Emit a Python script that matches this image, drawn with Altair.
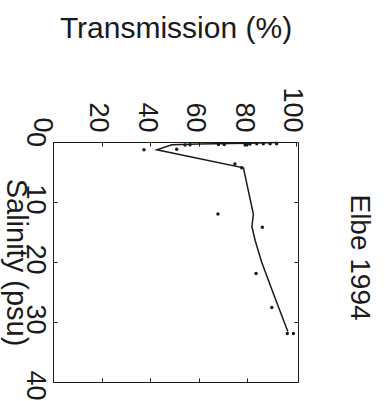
import altair as alt
import pandas as pd

# Axis tick values
trans_ticks = [0, 20, 40, 60, 80, 100]
trans_inner_ticks = [20, 40, 60, 80]
sal_ticks = [0, 10, 20, 30, 40]
sal_inner_ticks = [10, 20, 30]

# Measured points (Transmission %, Salinity psu)
pt_trans = [37.5, 51.0, 54.4, 56.5, 68.2, 70.6, 79.2, 80.0, 81.2, 84.0, 86.7, 89.5, 92.2,
            75.0, 77.8, 68.0, 86.3, 83.7, 90.2, 96.6, 99.1]
pt_sal = [1.3, 1.2, 0.5, 0.45, 0.4, 0.4, 0.5, 0.4, 0.35, 0.3, 0.3, 0.3, 0.3,
          3.65, 4.3, 12.0, 14.2, 21.9, 27.6, 31.9, 31.9]

# Fitted curve vertices, in drawing order
line_trans = [92.8, 80.0, 60.0, 49.0, 42.8, 78.5, 82.6, 82.0, 83.4, 86.0, 90.6, 96.8]
line_sal = [0.1, 0.2, 0.35, 0.45, 1.3, 4.3, 12.0, 14.1, 16.5, 20.0, 25.0, 31.6]

chart_title = "Elbe 1994"

FONT = "Liberation Sans"
INK = "#1a1a1a"

xs = alt.Scale(domain=[0, 101], nice=False, zero=False)
ys = alt.Scale(domain=[0, 40], nice=False, reverse=True)

pts = pd.DataFrame({"Transmission": pt_trans, "Salinity": pt_sal})
curve = pd.DataFrame({"Transmission": line_trans, "Salinity": line_sal,
                      "order": list(range(len(line_trans)))})

points = alt.Chart(pts).mark_circle(size=12, color=INK, opacity=1).encode(
    x=alt.X("Transmission:Q", scale=xs, axis=alt.Axis(
        orient="top", values=trans_ticks, title="Transmission (%)",
        labelAngle=90, labelAlign="right", labelBaseline="middle",
        labelFontSize=27, labelPadding=10, tickSize=4, offset=-4,
        labelOffset={"condition": {"test": "datum.value === 0", "value": -12}, "value": -4},
        domain=False, grid=False, titleFontSize=30, titlePadding=43,
        titleFontWeight="normal")),
    y=alt.Y("Salinity:Q", scale=ys, axis=alt.Axis(
        orient="left", values=sal_ticks, title="Salinity (psu)",
        labelAngle=90, labelAlign="center", labelBaseline="top",
        labelFontSize=27, labelPadding=6, tickSize=4, offset=-4,
        labelOffset={"condition": {"test": "datum.value === 40", "value": 3}, "value": -3},
        domain=False, grid=False, titleFontSize=29, titleAngle=90,
        titleBaseline="top", titlePadding=-8, titleFontWeight="normal")),
)

line = alt.Chart(curve).mark_line(color=INK, strokeWidth=1.5).encode(
    x=alt.X("Transmission:Q", scale=xs, axis=alt.Axis(
        orient="bottom", values=trans_inner_ticks, labels=False, title=None,
        tickSize=4, offset=-4, domain=False, grid=False)),
    y=alt.Y("Salinity:Q", scale=ys, axis=alt.Axis(
        orient="right", values=sal_inner_ticks, labels=False, title=chart_title,
        titleAngle=90, titleBaseline="alphabetic", titleAlign="center",
        titlePadding=52, titleY=115, titleFontSize=28, titleFontWeight="normal",
        tickSize=4, offset=-4, domain=False, grid=False)),
    order="order:Q",
)

chart = alt.layer(line, points).properties(
    width=245, height=240,
    autosize=alt.AutoSizeParams(type="none"),
    padding={"left": 53, "top": 142, "right": 87, "bottom": 19},
).configure_view(stroke=INK, strokeWidth=1).configure_axis(
    labelFont=FONT, titleFont=FONT, labelColor=INK, titleColor=INK,
    tickColor=INK, tickWidth=1)

chart.save("out.html", embed_options={"renderer": "svg", "actions": False})
